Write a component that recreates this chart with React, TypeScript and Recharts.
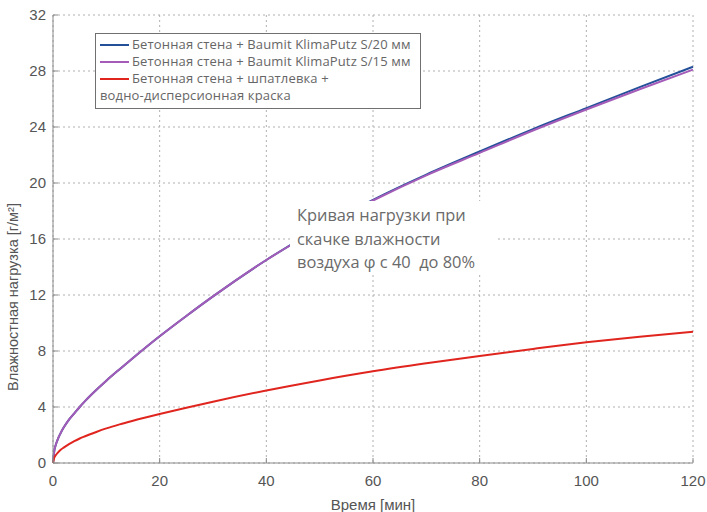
import { CartesianGrid, Line, LineChart, XAxis, YAxis } from "recharts";

// время, мин
const minutes = [0, 0.25, 0.5, 1, 1.5, 2, 3, 4, 5, 6, 8, 10, 12.5, 15, 20, 25, 30, 40, 50, 60, 70, 80, 90, 100, 110, 120];
// Бетонная стена + Baumit KlimaPutz S/20 мм
const klima20 = [0, 0.9, 1.27, 1.79, 2.19, 2.53, 3.1, 3.55, 4.0, 4.42, 5.18, 5.88, 6.7, 7.5, 9.05, 10.5, 11.9, 14.5, 16.8, 18.8, 20.6, 22.25, 23.85, 25.35, 26.85, 28.3];
// Бетонная стена + Baumit KlimaPutz S/15 мм
const klima15 = [0, 0.9, 1.27, 1.79, 2.19, 2.53, 3.1, 3.55, 4.0, 4.42, 5.18, 5.88, 6.7, 7.5, 9.05, 10.5, 11.9, 14.5, 16.75, 18.75, 20.55, 22.15, 23.75, 25.25, 26.7, 28.1];
// Бетонная стена + шпатлевка + водно-дисперсионная краска
const paint = [0, 0.39, 0.55, 0.78, 0.96, 1.1, 1.35, 1.56, 1.75, 1.91, 2.2, 2.47, 2.76, 3.02, 3.5, 3.95, 4.38, 5.18, 5.9, 6.55, 7.12, 7.65, 8.15, 8.62, 9.02, 9.38];

const xTicks = [0, 20, 40, 60, 80, 100, 120];
const yTicks = [0, 4, 8, 12, 16, 20, 24, 28, 32];

const seriesNames = [
  "Бетонная стена + Baumit KlimaPutz S/20 мм",
  "Бетонная стена + Baumit KlimaPutz S/15 мм",
  "Бетонная стена + шпатлевка +\nводно-дисперсионная краска",
];
const seriesColors = ["#24509a", "#a45cb8", "#e0251f"];

const data = minutes.map((t, i) => ({ t, a: klima20[i], b: klima15[i], c: paint[i] }));

const narrow = "'Liberation Sans Narrow', 'Liberation Sans', sans-serif";
const tickFont = { fill: "#555", fontSize: 15, fontFamily: narrow };
const frame = { stroke: "#8a8a8a", strokeWidth: 1 };

function LegendBox() {
  return (
    <div
      style={{
        position: "absolute",
        left: 95,
        top: 33,
        width: 326,
        height: 76,
        border: "1px solid #707070",
        background: "#fff",
        padding: "2px 0 0 4px",
        fontFamily: "'Open Sans', sans-serif",
        fontSize: 13,
        letterSpacing: 0.15,
        color: "#666",
        lineHeight: "17px",
        boxSizing: "border-box",
      }}
    >
      {seriesNames.map((name, i) => (
        <div key={i} style={{ display: "flex", alignItems: "flex-start" }}>
          <span
            style={{
              display: "inline-block",
              width: 29,
              height: 2,
              background: seriesColors[i],
              marginTop: 8,
              marginRight: 3,
              flexShrink: 0,
            }}
          />
          <span style={{ whiteSpace: "pre" }}>
            {name.split("\n").map((ln, j) => (
              <div key={j} style={{ marginLeft: j > 0 ? -32 : 0 }}>{ln}</div>
            ))}
          </span>
        </div>
      ))}
    </div>
  );
}

export default function App() {
  return (
    <div style={{ position: "absolute", left: 0, top: 0, width: 707, height: 512, background: "#fff" }}>
      <LineChart width={707} height={512} data={data} margin={{ top: 15, right: 14, left: 0, bottom: 0 }}>
        <CartesianGrid stroke="#b0b0b0" strokeDasharray="2 3" horizontal vertical />
        <XAxis
          dataKey="t"
          type="number"
          domain={[0, 120]}
          ticks={xTicks}
          height={49}
          tick={tickFont}
          tickSize={-5}
          tickMargin={17}
          tickLine={frame}
          axisLine={frame}
          label={{ value: "Время [мин]", position: "insideBottom", offset: 2, fill: "#555", fontSize: 15, fontFamily: narrow }}
        />
        <XAxis xAxisId="top" orientation="top" dataKey="t" type="number" domain={[0, 120]} ticks={xTicks} height={0} tick={false} tickLine={false} axisLine={frame} />
        <YAxis
          type="number"
          domain={[0, 32]}
          ticks={yTicks}
          width={53}
          tick={tickFont}
          tickSize={-5}
          tickMargin={12}
          tickLine={frame}
          axisLine={frame}
          label={() => (
            <text
              x={18}
              y={297}
              transform="rotate(-90 18 297)"
              textAnchor="middle"
              fill="#555"
              fontSize={14.5}
              fontFamily={narrow}
            >
              Влажностная нагрузка [г/м²]
            </text>
          )}
        />
        <YAxis yAxisId="right" orientation="right" type="number" domain={[0, 32]} ticks={yTicks} width={0} tick={false} tickLine={false} axisLine={frame} />
        <Line type="monotone" dataKey="a" name={seriesNames[0]} stroke={seriesColors[0]} strokeWidth={2} dot={false} isAnimationActive={false} />
        <Line type="monotone" dataKey="b" name={seriesNames[1]} stroke={seriesColors[1]} strokeWidth={2} dot={false} isAnimationActive={false} />
        <Line type="monotone" dataKey="c" name={seriesNames[2]} stroke={seriesColors[2]} strokeWidth={2} dot={false} isAnimationActive={false} />
      </LineChart>
      <LegendBox />
      <div
        style={{
          position: "absolute",
          left: 290,
          top: 201,
          width: 206,
          height: 72,
          background: "#fff",
          padding: "2px 0 0 7px",
          boxSizing: "border-box",
          fontFamily: "'Open Sans', sans-serif",
          fontSize: 16.4,
          lineHeight: "23.5px",
          color: "#6a6a6a",
          whiteSpace: "nowrap",
        }}
      >
        Кривая нагрузки при
        <br />
        скачке влажности
        <br />
        воздуха φ с 40&nbsp; до 80%
      </div>
    </div>
  );
}
